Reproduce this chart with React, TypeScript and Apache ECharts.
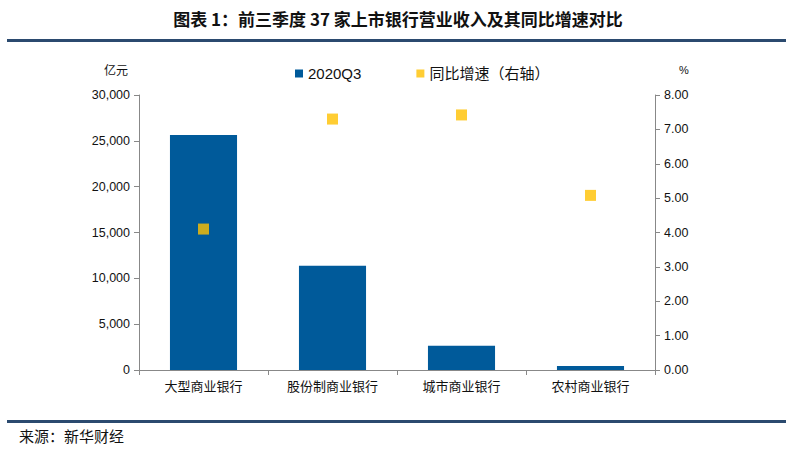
import React, { useEffect, useRef } from "react";
import * as echarts from "echarts";

const categories = ["大型商业银行", "股份制商业银行", "城市商业银行", "农村商业银行"];
const revenue = [25650, 11380, 2650, 450];
const growth = [4.1, 7.3, 7.42, 5.08];
const seriesNames = ["2020Q3", "同比增速（右轴）"];
const titleText = "图表 1：前三季度 37 家上市银行营业收入及其同比增速对比";
const sourceText = "来源：新华财经";

const FONT = "'Liberation Sans', 'Noto Sans CJK SC', sans-serif";

export default function App() {
  const ref = useRef<HTMLDivElement>(null);
  useEffect(() => {
    document.body.style.margin = "0";
    const chart = echarts.init(ref.current!, null, { renderer: "svg" });
    chart.setOption({
      animation: false,
      backgroundColor: "#ffffff",
      textStyle: { fontFamily: FONT },
      grid: { left: 139, right: 141, top: 95, bottom: 80 },
      legend: {
        top: 61,
        left: 290,
        itemWidth: 8,
        itemHeight: 8,
        itemGap: 55,
        textStyle: { fontSize: 15, color: "#111", fontFamily: FONT },
        data: [
          { name: seriesNames[0], icon: "rect" },
          { name: seriesNames[1], icon: "rect" },
        ],
      },
      graphic: [
        {
          type: "text",
          left: "center",
          top: 10,
          style: { text: titleText, font: "bold 17px 'Noto Sans CJK SC', sans-serif", fill: "#111" },
        },
        { type: "rect", shape: { x: 7, y: 39, width: 779, height: 3 }, style: { fill: "#2b4a6f" } },
        { type: "rect", shape: { x: 7, y: 420, width: 779, height: 3 }, style: { fill: "#2b4a6f" } },
        {
          type: "text",
          left: 19,
          top: 428,
          style: { text: sourceText, font: "15px 'Noto Sans CJK SC', sans-serif", fill: "#111" },
        },
        {
          type: "text",
          left: 104,
          top: 63,
          style: { text: "亿元", font: "12px 'Noto Sans CJK SC', sans-serif", fill: "#111" },
        },
        {
          type: "text",
          left: 679,
          top: 64,
          style: { text: "%", font: "11px 'Liberation Sans', sans-serif", fill: "#111" },
        },
      ],
      xAxis: {
        type: "category",
        data: categories,
        axisLine: { lineStyle: { color: "#888" } },
        axisTick: { show: true, length: 5, lineStyle: { color: "#888" } },
        axisLabel: { color: "#111", fontSize: 13, margin: 9, fontFamily: "'Noto Sans CJK SC', sans-serif" },
      },
      yAxis: [
        {
          type: "value",
          min: 0,
          max: 30000,
          interval: 5000,
          splitLine: { show: false },
          axisLine: { show: true, lineStyle: { color: "#888" } },
          axisTick: { show: true, length: 5, lineStyle: { color: "#888" } },
          axisLabel: {
            color: "#111",
            fontSize: 12.5,
            margin: 9,
            formatter: (v: number) => v.toLocaleString("en-US"),
          },
        },
        {
          type: "value",
          min: 0,
          max: 8,
          interval: 1,
          splitLine: { show: false },
          axisLine: { show: true, lineStyle: { color: "#888" } },
          axisTick: { show: true, length: 5, lineStyle: { color: "#888" } },
          axisLabel: {
            color: "#111",
            fontSize: 12.5,
            margin: 9,
            formatter: (v: number) => v.toFixed(2),
          },
        },
      ],
      series: [
        {
          name: seriesNames[0],
          type: "bar",
          data: revenue,
          barWidth: "52%",
          itemStyle: { color: "#005a9a" },
          yAxisIndex: 0,
        },
        {
          name: seriesNames[1],
          type: "scatter",
          data: growth,
          yAxisIndex: 1,
          symbol: "rect",
          symbolSize: 11,
          itemStyle: { color: "#ffc000" },
        },
      ],
    });
    return () => chart.dispose();
  }, []);
  return <div ref={ref} style={{ width: 796, height: 450 }} />;
}
